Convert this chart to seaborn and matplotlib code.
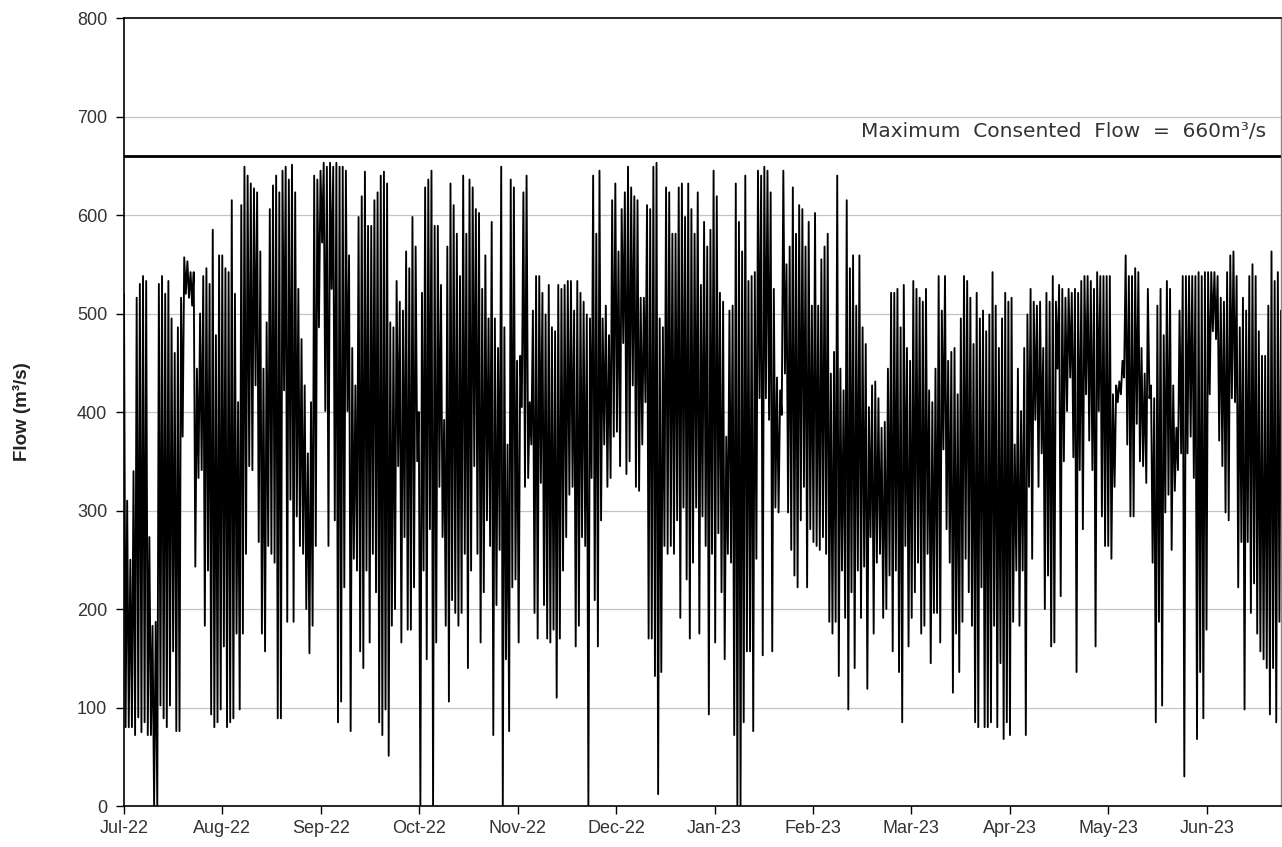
import numpy as np
import pandas as pd
import matplotlib
matplotlib.use("Agg")
import matplotlib.pyplot as plt
import seaborn as sns

# Tick labels (one per monthly tick)
month_labels = ["Jul-22", "Aug-22", "Sep-22", "Oct-22", "Nov-22", "Dec-22",
                "Jan-23", "Feb-23", "Mar-23", "Apr-23", "May-23", "Jun-23"]

# Daily high / low flow values (m3/s), grouped by tick interval
hi_jul = [520, 310, 250, 340, 516, 530, 538, 533, 273, 183, 187, 530, 538, 520, 533, 495, 460, 486, 516, 557, 553, 542, 542, 444, 500, 538, 546, 530, 585, 478, 559]
lo_jul = [80, 80, 80, 72, 90, 75, 85, 72, 72, 0, 0, 102, 89, 80, 102, 157, 76, 76, 375, 520, 516, 508, 243, 333, 341, 183, 239, 93, 80, 85, 98]
hi_aug = [559, 546, 542, 615, 520, 410, 610, 649, 640, 632, 627, 623, 563, 444, 491, 606, 630, 640, 623, 645, 649, 636, 651, 623, 525, 474, 427, 358, 410, 640, 636]
lo_aug = [162, 80, 85, 89, 175, 98, 175, 256, 345, 341, 427, 268, 175, 157, 264, 256, 247, 89, 89, 422, 187, 311, 187, 294, 264, 256, 200, 155, 183, 264, 486]
hi_sep = [645, 653, 649, 653, 649, 653, 649, 649, 645, 559, 465, 427, 598, 619, 644, 589, 589, 615, 623, 640, 644, 632, 491, 486, 533, 512, 503, 563, 546, 598, 568]
lo_sep = [572, 401, 264, 525, 290, 85, 106, 222, 401, 76, 251, 239, 157, 140, 239, 166, 256, 217, 85, 72, 98, 51, 183, 200, 345, 166, 273, 179, 179, 222, 350]
hi_oct = [400, 521, 628, 636, 645, 589, 589, 529, 392, 568, 632, 610, 581, 538, 640, 581, 636, 628, 606, 602, 525, 559, 495, 593, 495, 465, 649, 486, 367, 636, 628]
lo_oct = [0, 239, 149, 281, 0, 166, 324, 273, 183, 106, 209, 196, 183, 196, 256, 140, 239, 345, 256, 166, 217, 290, 264, 72, 204, 260, 0, 149, 76, 222, 230]
hi_nov = [452, 457, 623, 640, 410, 503, 538, 538, 521, 499, 529, 486, 482, 529, 525, 529, 533, 533, 503, 533, 521, 512, 499, 495, 640, 581, 645, 495, 508, 478, 615]
lo_nov = [166, 405, 324, 333, 367, 196, 170, 328, 204, 170, 166, 179, 110, 170, 239, 273, 316, 324, 162, 183, 273, 264, 0, 333, 209, 162, 290, 367, 324, 333, 375]
hi_dec = [632, 563, 606, 623, 649, 628, 619, 615, 516, 516, 610, 606, 649, 653, 495, 486, 628, 623, 581, 581, 628, 632, 598, 632, 606, 581, 623, 529, 593, 568, 585]
lo_dec = [380, 345, 470, 337, 350, 427, 324, 320, 367, 410, 170, 170, 132, 12, 136, 264, 256, 264, 256, 290, 191, 303, 230, 170, 247, 303, 175, 294, 264, 93, 256]
hi_jan = [645, 619, 521, 512, 375, 503, 508, 632, 593, 563, 640, 533, 538, 542, 645, 640, 649, 645, 623, 525, 435, 422, 645, 550, 568, 628, 581, 610, 606, 568, 593]
lo_jan = [166, 277, 217, 149, 256, 247, 72, 0, 0, 85, 157, 157, 76, 251, 414, 153, 414, 392, 157, 303, 298, 397, 439, 298, 260, 234, 222, 290, 324, 222, 281]
hi_feb = [508, 602, 508, 555, 568, 581, 439, 461, 640, 444, 422, 615, 546, 559, 508, 559, 486, 469, 405, 427, 431, 414, 384, 390, 444, 521, 521, 525, 486, 529, 465]
lo_feb = [268, 264, 260, 273, 256, 187, 175, 187, 132, 239, 191, 98, 217, 140, 239, 191, 243, 119, 273, 175, 247, 256, 191, 200, 234, 157, 239, 136, 85, 264, 162]
hi_mar = [452, 533, 525, 516, 512, 525, 422, 410, 444, 538, 503, 538, 452, 461, 465, 418, 495, 538, 533, 516, 469, 521, 495, 503, 482, 499, 542, 508, 465, 495, 521]
lo_mar = [191, 217, 247, 175, 183, 256, 145, 196, 196, 166, 362, 281, 247, 115, 175, 136, 187, 251, 217, 183, 85, 80, 222, 80, 80, 85, 183, 80, 145, 68, 85]
hi_apr = [512, 516, 367, 444, 401, 465, 499, 525, 512, 508, 512, 465, 521, 512, 538, 512, 529, 525, 516, 525, 521, 525, 521, 533, 538, 538, 533, 525, 542, 538, 538]
lo_apr = [72, 187, 239, 183, 239, 72, 324, 251, 392, 324, 358, 200, 234, 162, 166, 444, 213, 350, 401, 435, 354, 136, 341, 281, 418, 371, 341, 162, 401, 294, 264]
hi_may = [538, 538, 418, 427, 431, 452, 559, 538, 538, 546, 542, 465, 439, 525, 427, 414, 508, 525, 478, 533, 525, 427, 384, 503, 538, 538, 538, 538, 538, 542, 538]
lo_may = [264, 251, 324, 410, 418, 435, 367, 294, 294, 388, 350, 345, 328, 414, 247, 85, 187, 102, 298, 316, 260, 320, 341, 358, 30, 358, 375, 333, 68, 136, 89]
hi_jun = [542, 542, 542, 542, 538, 516, 512, 542, 559, 563, 538, 486, 516, 503, 538, 550, 538, 482, 457, 457, 508, 563, 533, 542, 503]
lo_jun = [179, 418, 482, 474, 371, 345, 298, 290, 414, 410, 222, 268, 98, 268, 196, 226, 175, 157, 149, 140, 93, 140, 85, 187, 281]

max_consented = 660

high = np.concatenate([hi_jul, hi_aug, hi_sep, hi_oct, hi_nov, hi_dec,
                       hi_jan, hi_feb, hi_mar, hi_apr, hi_may, hi_jun])
low = np.concatenate([lo_jul, lo_aug, lo_sep, lo_oct, lo_nov, lo_dec,
                      lo_jan, lo_feb, lo_mar, lo_apr, lo_may, lo_jun])
n = len(high)
day = np.arange(n)
x = np.column_stack([day, day + 0.5]).ravel()
y = np.column_stack([high, low]).ravel()
df = pd.DataFrame({"day": x, "flow": y})

sns.set_theme(style="white")
plt.rcParams["font.family"] = ["Liberation Sans", "DejaVu Sans"]

W, H = 1282, 847
fig = plt.figure(figsize=(W / 100, H / 100), dpi=100)
ax = fig.add_axes([124 / W, 1 - 806 / H, (1281 - 124) / W, (806 - 18) / H])

for v in range(100, 800, 100):
    ax.axhline(v, color="#c4c4c4", lw=0.9, zorder=0)

sns.lineplot(data=df, x="day", y="flow", color="black", linewidth=1.35,
             sort=False, estimator=None, ax=ax, zorder=2)

ax.axhline(max_consented, color="black", lw=2.0, zorder=3)
ax.text(0.987, 685, "Maximum  Consented  Flow  =  660m³/s", transform=ax.get_yaxis_transform(),
        ha="right", va="center", fontsize=14.5, color="#333333", family=["DejaVu Sans"])

ax.set_xlim(0, 365)
ax.set_ylim(0, 800)
ax.set_yticks(range(0, 801, 100))
ax.set_xticks(np.arange(len(month_labels)) * 31.05)
ax.set_xticklabels(month_labels)
ax.tick_params(axis="both", which="major", labelsize=13, colors="#333333",
               length=6, width=1, direction="out", bottom=True, left=True)
ax.tick_params(axis="x", pad=4, color="black")
ax.tick_params(axis="y", pad=6, color="black")

ax.set_xlabel("")
ax.set_ylabel("Flow (m³/s)", fontsize=13.5, fontweight="bold", color="#222222")
ax.yaxis.set_label_coords(-0.08, 0.5)

for s in ["left", "bottom", "top"]:
    ax.spines[s].set_color("black")
    ax.spines[s].set_linewidth(1.2)
ax.spines["right"].set_color("#888888")
ax.spines["right"].set_linewidth(1.0)
ax.grid(False)

fig.savefig("out.png", dpi=100)
